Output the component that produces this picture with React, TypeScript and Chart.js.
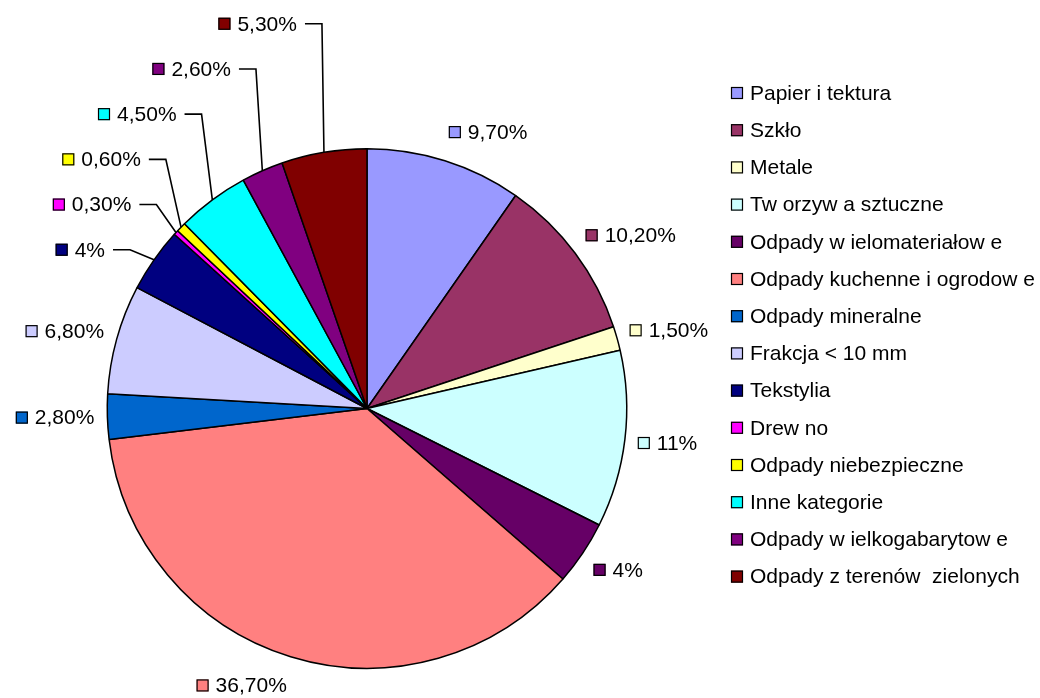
import React, { useEffect, useRef } from 'react';
import { Chart, registerables } from 'chart.js';

Chart.register(...registerables);

const categories = [
  'Papier i tektura',
  'Szkło',
  'Metale',
  'Tw orzyw a sztuczne',
  'Odpady w ielomateriałow e',
  'Odpady kuchenne i ogrodow e',
  'Odpady mineralne',
  'Frakcja < 10 mm',
  'Tekstylia',
  'Drew no',
  'Odpady niebezpieczne',
  'Inne kategorie',
  'Odpady w ielkogabarytow e',
  'Odpady z terenów  zielonych',
];

const shares = [9.7, 10.2, 1.5, 11, 4, 36.7, 2.8, 6.8, 4, 0.3, 0.6, 4.5, 2.6, 5.3];

const sliceColors = [
  '#9999FF',
  '#993366',
  '#FFFFCC',
  '#CCFFFF',
  '#660066',
  '#FF8080',
  '#0066CC',
  '#CCCCFF',
  '#000080',
  '#FF00FF',
  '#FFFF00',
  '#00FFFF',
  '#800080',
  '#800000',
];

const FONT = '21px "Liberation Sans", Arial, sans-serif';

const formatShare = (v: number) =>
  (Number.isInteger(v) ? String(v) : v.toFixed(2).replace('.', ',')) + '%';

function drawKeyed(ctx: CanvasRenderingContext2D, left: number, cy: number, color: string, text: string) {
  ctx.fillStyle = color;
  ctx.fillRect(left, cy - 6, 12, 12);
  ctx.lineWidth = 1.2;
  ctx.strokeStyle = '#000';
  ctx.strokeRect(left + 0.5, cy - 5.5, 11, 11);
  ctx.fillStyle = '#000';
  ctx.textAlign = 'left';
  ctx.textBaseline = 'middle';
  ctx.fillText(text, left + 19, cy + 1);
}

const labelPlugin = {
  id: 'pieLabels',
  afterDraw(chart: any) {
    const ctx: CanvasRenderingContext2D = chart.ctx;
    const meta = chart.getDatasetMeta(0);
    const values: number[] = chart.data.datasets[0].data;
    const colors: string[] = chart.data.datasets[0].backgroundColor;
    ctx.save();
    ctx.font = FONT;

    const info = meta.data.map((arc: any) => {
      const p = arc.getProps(['x', 'y', 'startAngle', 'endAngle', 'outerRadius'], true);
      const mid = (p.startAngle + p.endAngle) / 2;
      const fromTop = (((mid + Math.PI / 2) * 180) / Math.PI + 720) % 360;
      return {
        ...p,
        mid,
        fromTop,
        px: p.x + p.outerRadius * Math.cos(mid),
        py: p.y + p.outerRadius * Math.sin(mid),
      };
    });

    const leaderGroup: number[] = [];
    info.forEach((d: any, i: number) => {
      if (d.fromTop > 295) leaderGroup.push(i);
    });

    info.forEach((d: any, i: number) => {
      const text = formatShare(values[i]);
      const tw = ctx.measureText(text).width;
      const w = 19 + tw;
      const gi = leaderGroup.indexOf(i);
      if (gi >= 0) {
        const k = leaderGroup.length - 1 - gi;
        const cy = d.y - d.outerRadius - 125 + k * 45.2;
        const ex = d.px - (2 + 4.4 * k);
        ctx.strokeStyle = '#000';
        ctx.lineWidth = 1.6;
        ctx.beginPath();
        ctx.moveTo(d.px, d.py);
        ctx.lineTo(ex, cy);
        ctx.lineTo(ex - 17, cy);
        ctx.stroke();
        const right = ex - 25;
        drawKeyed(ctx, right - w, cy, colors[i], text);
      } else {
        const c = Math.cos(d.mid);
        const s = Math.sin(d.mid);
        const nearX = d.px + 13 * c;
        const cy = d.py + 30 * s;
        const left = c >= 0 ? nearX : nearX - w;
        drawKeyed(ctx, left, cy, colors[i], text);
      }
    });

    // legend
    const lx = chart.chartArea.right - 3;
    const ly0 = 93;
    const step = 37.2;
    chart.data.labels.forEach((lab: string, i: number) => {
      drawKeyed(ctx, lx, ly0 + i * step, colors[i], lab);
    });
    ctx.restore();
  },
};

export default function App() {
  const ref = useRef<HTMLCanvasElement | null>(null);
  useEffect(() => {
    if (!ref.current) return;
    const chart = new Chart(ref.current, {
      type: 'pie',
      data: {
        labels: categories,
        datasets: [
          {
            data: shares,
            backgroundColor: sliceColors,
            borderColor: '#000',
            borderWidth: 1.5,
          },
        ],
      },
      options: {
        animation: false,
        responsive: true,
        maintainAspectRatio: false,
        layout: { padding: { left: 0, right: 306, top: 148, bottom: 29 } },
        plugins: {
          legend: { display: false },
          tooltip: { enabled: false },
        },
      },
      plugins: [labelPlugin],
    });
    return () => chart.destroy();
  }, []);
  return (
    <div style={{ position: 'fixed', left: 0, top: 0, width: 1040, height: 698, background: '#fff' }}>
      <canvas ref={ref} />
    </div>
  );
}
